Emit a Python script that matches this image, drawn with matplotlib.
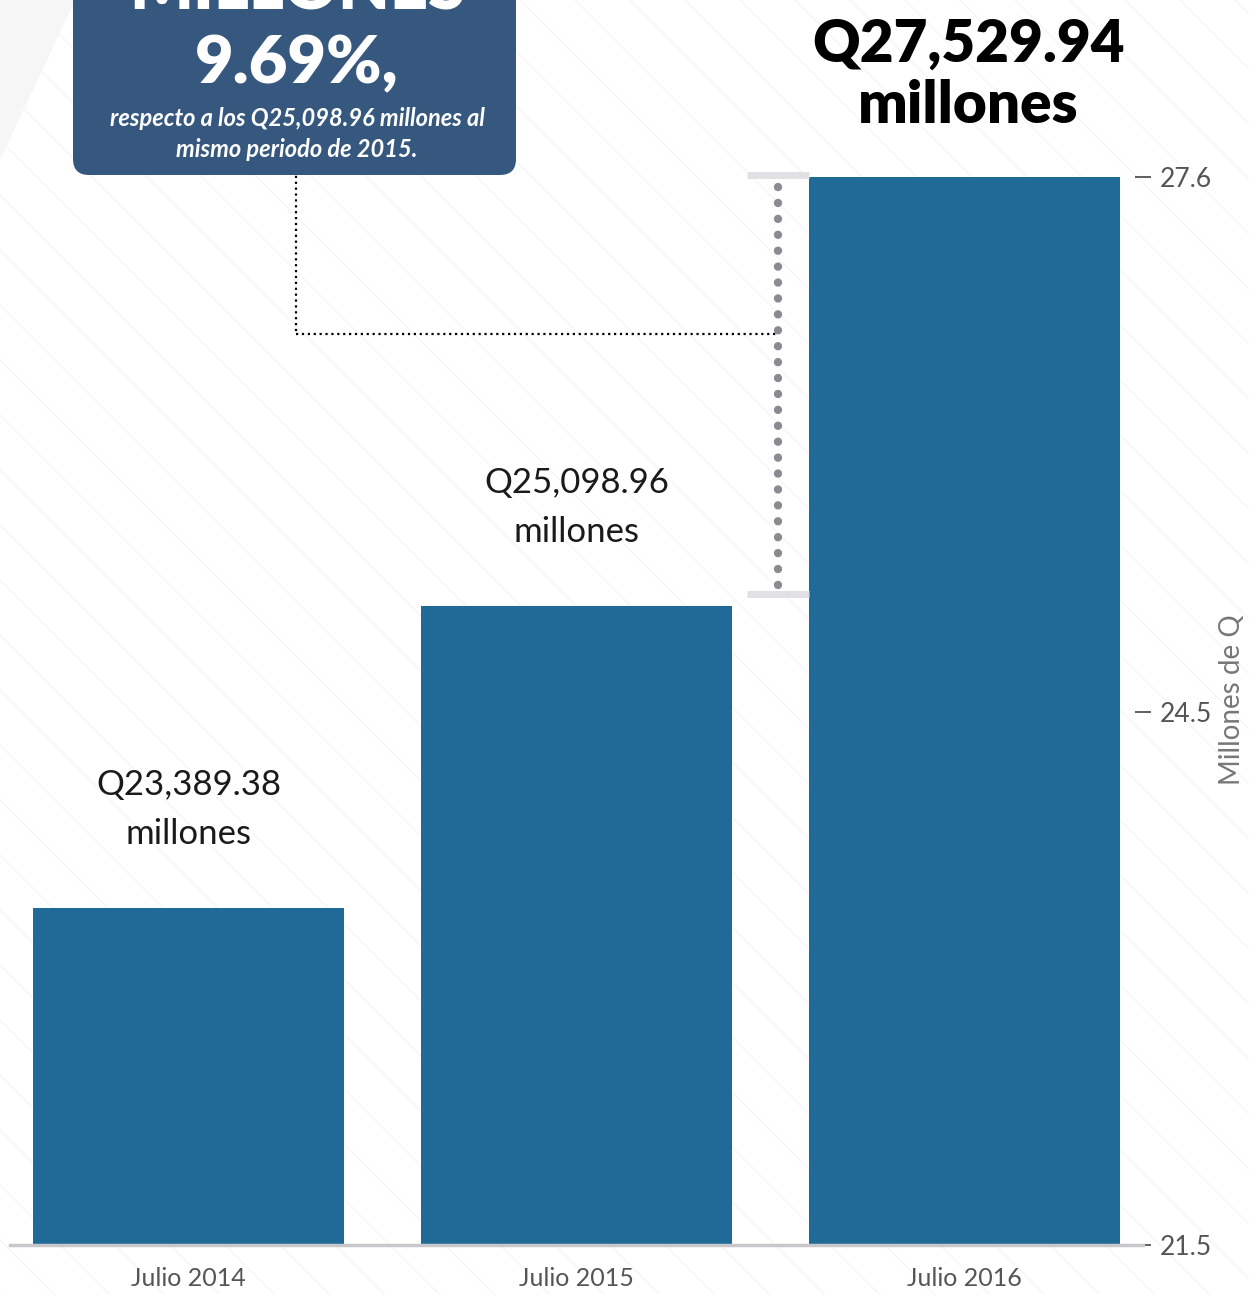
import matplotlib
matplotlib.use("Agg")
import matplotlib.pyplot as plt
from matplotlib.patches import FancyBboxPatch, Polygon
import numpy as np

# ---- data ----
categories = ["Julio 2014", "Julio 2015", "Julio 2016"]
values = [23.38938, 25.09896, 27.52994]
bar_labels = ["Q23,389.38\nmillones", "Q25,098.96\nmillones", "Q27,529.94\nmillones"]
ytick_values = [21.48, 24.5, 27.53]
ytick_labels = ["21.5", "24.5", "27.6"]
y_min, y_max = 21.48, 28.53
axis_title = "Millones de Q"
box_title = "MILLONES"
growth_text = "9.69%,"
box_note = "respecto a los Q25,098.96 millones al\nmismo periodo de 2015."

plt.rcParams['font.family'] = ['Lato', 'DejaVu Sans']

W, H = 1249, 1295
fig = plt.figure(figsize=(W / 100, H / 100), dpi=100)
fig.patch.set_facecolor('white')

# background decoration
bg = fig.add_axes([0, 0, 1, 1], zorder=0)
bg.set_xlim(0, W); bg.set_ylim(H, 0); bg.axis('off')
for c in range(-H, W + 60, 55):
    bg.plot([c, c + H], [0, H], color='#f6f6f7', lw=1)
bg.add_patch(Polygon([[0, 0], [75, 0], [0, 160]], closed=True, color='#f6f6f7', lw=0))

# main chart
ax = fig.add_axes([10 / W, 50 / H, 1133 / W, 1245 / H], zorder=1)
ax.patch.set_alpha(0)
x = np.arange(len(categories))
ax.bar(x, values, width=0.8, color='#1F6A97', zorder=2)
ax.set_xlim(-0.46, 2.46)
ax.set_ylim(y_min, y_max)

for i, (v, lab) in enumerate(zip(values, bar_labels)):
    if i < 2:
        ax.text(i, v + 0.33, lab, ha='center', va='bottom', fontsize=25,
                fontweight='normal', color='#1a1a1a', linespacing=1.65)
    else:
        ax.text(i + 0.01, v + 0.25, lab, ha='center', va='bottom', fontsize=42,
                fontweight='heavy', color='black', linespacing=1.2)

for s in ['top', 'left', 'right']:
    ax.spines[s].set_visible(False)
ax.spines['bottom'].set_color('#c8c8cc')
ax.spines['bottom'].set_linewidth(2.5)
ax.set_xticks(x, categories)
ax.tick_params(axis='x', length=0, labelsize=18, labelcolor='#555555', pad=16)
ax.yaxis.tick_right()
ax.set_yticks(ytick_values, ytick_labels)
ax.tick_params(axis='y', length=12, width=1.2, color='#444444', labelsize=19,
               labelcolor='#555555', pad=6, direction='inout')

# comparison markers
xm = 1.52
ax.plot([xm, xm], [25.22, 27.47], color='#8a8a90', lw=6,
        linestyle=(0, (0.01, 1.9)), dash_capstyle='round', clip_on=False, zorder=3)
ax.plot([1.44, 1.6], [values[2] + 0.01, values[2] + 0.01], color='#e1e1e5', lw=5,
        solid_capstyle='butt', clip_on=False, zorder=3)
ax.plot([1.44, 1.6], [values[1] + 0.07, values[1] + 0.07], color='#e1e1e5', lw=5,
        solid_capstyle='butt', clip_on=False, zorder=3)
ax.plot([0.276, 0.276], [27.6, 26.64], color='black', lw=1.6, linestyle=':', zorder=3)
ax.plot([0.276, xm], [26.64, 26.64], color='black', lw=1.6, linestyle=':', zorder=3)

fig.text(1232 / W, 1 - 700 / H, axis_title, rotation=90, ha='center', va='center',
         fontsize=20, color='#777777')

# overlay box
ov = fig.add_axes([0, 0, 1, 1], zorder=3)
ov.set_xlim(0, W); ov.set_ylim(H, 0); ov.axis('off')
ov.add_patch(FancyBboxPatch((73, -40), 443, 215,
                            boxstyle='round,pad=0,rounding_size=16',
                            facecolor='#36587F', edgecolor='none'))
ov.text(297, 10, box_title, ha='center', va='baseline', fontsize=48,
        fontweight='heavy', color='white')
ov.text(297, 83, growth_text, ha='center', va='baseline', fontsize=48,
        fontweight='heavy', color='white')
ov.text(297, 134, box_note, ha='center', va='center', fontsize=17,
        fontstyle='italic', fontweight='bold', color='white', linespacing=1.45)

fig.savefig('out.png', dpi=100, facecolor='white')
